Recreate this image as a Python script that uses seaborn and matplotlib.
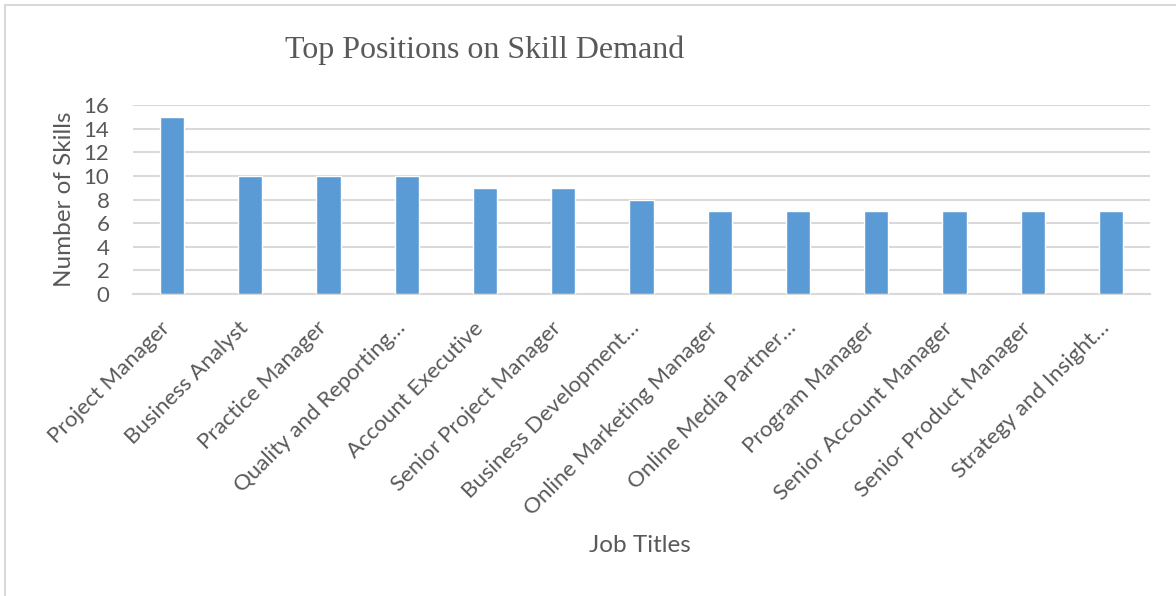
import matplotlib
matplotlib.use("Agg")
import matplotlib.pyplot as plt
from matplotlib.transforms import ScaledTranslation
from matplotlib.lines import Line2D
import seaborn as sns
import pandas as pd

job_titles = [
    "Project Manager",
    "Business Analyst",
    "Practice Manager",
    "Quality and Reporting…",
    "Account Executive",
    "Senior Project Manager",
    "Business Development…",
    "Online Marketing Manager",
    "Online Media Partner…",
    "Program Manager",
    "Senior Account Manager",
    "Senior Product Manager",
    "Strategy and Insight…",
]
skill_counts = [15, 10, 10, 10, 9, 9, 8, 7, 7, 7, 7, 7, 7]
y_ticks = [0, 2, 4, 6, 8, 10, 12, 14, 16]

df = pd.DataFrame({"Job Titles": job_titles, "Number of Skills": skill_counts})

sns.set_theme(style="white")
plt.rcParams["font.family"] = ["Lato", "DejaVu Sans"]

text_color = "#595959"
grid_color = "#D9D9D9"
bar_color = "#5B9BD5"

fig = plt.figure(figsize=(11.76, 5.96), dpi=100)
ax = fig.add_axes([133 / 1176, 1 - 294 / 596, (1150 - 133) / 1176, (294 - 105) / 596])

sns.barplot(data=df, x="Job Titles", y="Number of Skills", color=bar_color,
            width=0.31, saturation=1, ax=ax, zorder=3)

ax.set_ylim(0, 16)
ax.set_xlim(-0.5, len(job_titles) - 0.5)
ax.set_yticks(y_ticks)
ax.set_yticklabels([str(v) for v in y_ticks])
ax.yaxis.grid(True, color=grid_color, linewidth=1.5, zorder=0)
ax.set_axisbelow(True)
for side in ["top", "right", "left"]:
    ax.spines[side].set_visible(False)
ax.spines["bottom"].set_color(grid_color)
ax.spines["bottom"].set_linewidth(1.5)

ax.tick_params(axis="y", length=0, pad=17, labelsize=16, labelcolor=text_color)
ax.tick_params(axis="x", length=0, pad=10, labelsize=16, labelcolor=text_color)

offset = ScaledTranslation(-0.12, -0.1, fig.dpi_scale_trans)
for lbl in ax.get_xticklabels():
    lbl.set_rotation(45)
    lbl.set_rotation_mode("anchor")
    lbl.set_ha("right")
    lbl.set_va("top")
    lbl.set_transform(lbl.get_transform() + offset)

ax.set_xlabel("")
ax.set_ylabel("Number of Skills", fontsize=17.5, color=text_color)
ax.yaxis.set_label_coords(-0.057, 0.5)

fig.text(640 / 1176, 1 - 546 / 596, "Job Titles", ha="center", va="center",
         fontsize=17.5, color=text_color)
fig.text(485 / 1176, 1 - 50 / 596, "Top Positions on Skill Demand", ha="center",
         va="center", fontsize=23, color=text_color,
         family=["Liberation Serif", "DejaVu Serif"])

# light frame along the top and left edges of the chart area
fig.add_artist(Line2D([5 / 1176, 5 / 1176], [0, 1 - 5 / 596], transform=fig.transFigure,
                      color=grid_color, linewidth=1.5))
fig.add_artist(Line2D([5 / 1176, 1], [1 - 5 / 596, 1 - 5 / 596], transform=fig.transFigure,
                      color=grid_color, linewidth=1.5))

fig.savefig("out.png", dpi=100, facecolor="white")
